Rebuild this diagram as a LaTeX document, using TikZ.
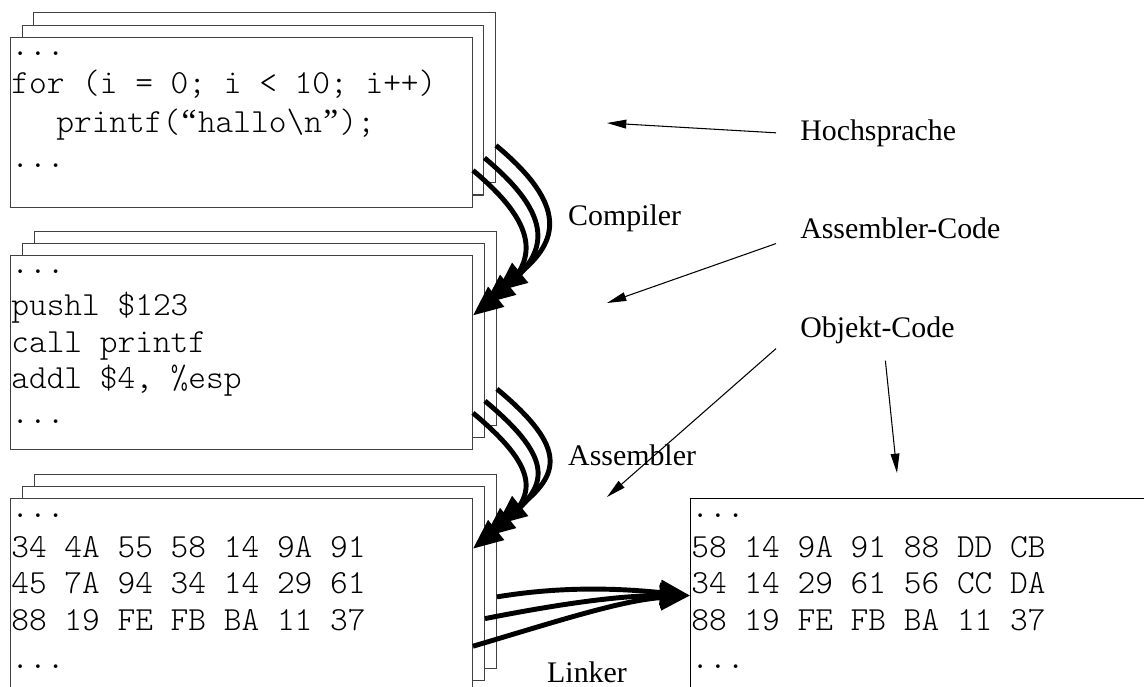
\documentclass[tikz,border=0pt]{standalone}
\usepackage{fontspec}
\setmainfont{Liberation Serif}
\setmonofont{lmmonolt10-regular}[Extension=.otf]
\usetikzlibrary{arrows.meta, calc}
\newcommand{\cellquote}[1]{\makebox[0.525em]{\rmfamily #1}}

\begin{document}
\begin{tikzpicture}[
    x=0.02cm, y=-0.02cm,
    sheet/.style={draw=black!75, fill=white, line width=0.6pt, anchor=north west,
      inner sep=0pt, minimum width=9.24cm, minimum height=#1},
    codeline/.style={font=\ttfamily\fontsize{19.2}{22}\selectfont, anchor=base west, inner sep=0pt},
    lbl/.style={font=\fontsize{17}{20}\selectfont, anchor=base west, inner xsep=13.6pt, inner ysep=2.8pt},
    fatarrow/.style={line width=2.8pt, -{Triangle[length=17pt, width=14pt]}},
    thinarrow/.style={line width=0.6pt, -{Triangle[length=11pt, width=5pt]}},
]
    \useasboundingbox (0,0) rectangle (1144,687);
    \clip (0,0) rectangle (1144,687);

    % Stacks of sheets
    \foreach \k in {2,1,0} {
        \node[sheet=3.4cm] (hll\k) at ({10+11.5*\k},{37-12.5*\k}) {};
    }
    \foreach \k in {2,1,0} {
        \node[sheet=3.88cm] (asm\k) at ({10+12*\k},{255-12*\k}) {};
    }
    \foreach \k in {2,1,0} {
        \node[sheet=3.88cm] (obj\k) at ({10+12*\k},{498-12*\k}) {};
    }
    \node[sheet=3.88cm, draw=black, minimum width=12cm] (exe) at (690,498) {};

    % Hochsprache
    \node[codeline] (hlla) at (11,55) {...};
    \node[codeline] (hllb) at (11,93) {for (i = 0; i < 10; i++)};
    \node[codeline] (hllc) at (56,132) {printf(\cellquote{“}hallo\textbackslash n\cellquote{”});};
    \node[codeline] (hlld) at (11,167) {...};

    % Assembler-Code
    \node[codeline] (asma) at (11,273) {...};
    \node[codeline] (asmb) at (11,315) {pushl \$123};
    \node[codeline] (asmc) at (11,352) {call printf};
    \node[codeline] (asmd) at (11,388) {addl \$4, \%esp};
    \node[codeline] (asme) at (11,423) {...};

    % Objekt-Code
    \node[codeline] (obja) at (11,517) {...};
    \node[codeline] (objb) at (11,557) {34 4A 55 58 14 9A 91};
    \node[codeline] (objc) at (11,593) {45 7A 94 34 14 29 61};
    \node[codeline] (objd) at (11,630) {88 19 FE FB BA 11 37};
    \node[codeline] (obje) at (11,668) {...};

    % gelinktes Programm
    \node[codeline] (exea) at (691,517) {...};
    \node[codeline] (exeb) at (691,557) {58 14 9A 91 88 DD CB};
    \node[codeline] (exec) at (691,593) {34 14 29 61 56 CC DA};
    \node[codeline] (exed) at (691,630) {88 19 FE FB BA 11 37};
    \node[codeline] (exee) at (691,668) {...};

    % Labels
    \node[lbl] (hs) at (776,140) {Hochsprache};
    \node[lbl] (ac) at (776,238) {Assembler-Code};
    \node[lbl] (oc) at (776,337) {Objekt-Code};
    \node[lbl] (comp) at (544,225) {Compiler};
    \node[lbl] (asmbl) at (544,465) {Assembler};
    \node[lbl] (link) at (523,682) {Linker};

    % Compiler / Assembler
    \foreach \k in {2,1,0} {
        \draw[fatarrow] ($(hll\k.north east)!0.78!(hll\k.south east)$)
            .. controls +(72,60) and +(62,-50) .. ($(asm\k.north east)!0.31!(asm\k.south east)$);
        \draw[fatarrow] ($(asm\k.north east)!0.81!(asm\k.south east)$)
            .. controls +(72,60) and +(62,-50) .. ($(obj\k.north east)!0.26!(obj\k.south east)$);
    }

    % Linker
    \draw[fatarrow] ($(obj2.north east)!0.63!(obj2.south east)$)
        .. controls +(67,-11) and +(-70,-7) .. (exe.west);
    \draw[fatarrow] ($(obj1.north east)!0.68!(obj1.south east)$)
        .. controls +(76,-15) and +(-70,0) .. (exe.west);
    \draw[fatarrow] ($(obj0.north east)!0.76!(obj0.south east)$)
        .. controls +(78,-23) and +(-70,5) .. (exe.west);

    % Pointers
    \coordinate (hsend) at (607,123);
    \coordinate (acend) at (607,303);
    \coordinate (ocenda) at (607,497);
    \coordinate (ocendb) at (897,473);
    \draw[thinarrow] (hs.west) -- (hsend);
    \draw[thinarrow] (ac.south west) -- (acend);
    \draw[thinarrow] (oc.south west) -- (ocenda);
    \draw[thinarrow] ($(oc.south)+(8,12)$) -- (ocendb);
\end{tikzpicture}
\end{document}
